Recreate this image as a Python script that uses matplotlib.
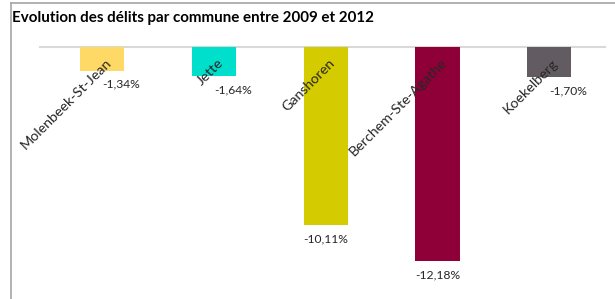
import matplotlib.pyplot as plt
from matplotlib.lines import Line2D

communes = ["Molenbeek-St-Jean", "Jette", "Ganshoren", "Berchem-Ste-Agathe", "Koekelberg"]
evolution = [-1.34, -1.64, -10.11, -12.18, -1.70]
colors = ["#FFD966", "#00DFCC", "#D4CC00", "#900038", "#625C62"]

plt.rcParams["font.family"] = ["Lato", "DejaVu Sans"]

fig = plt.figure(figsize=(6.15, 2.99), dpi=100)
ax = fig.add_axes([46.6 / 615, 0.019, 558.4 / 615, 0.824])

x = range(len(communes))
ax.bar(x, evolution, width=0.395, color=colors, zorder=2)
ax.axhline(0, xmin=-6.6 / 558.4, xmax=1, color="#D9D9D9", lw=1.5, zorder=1, clip_on=False)
ax.set_xlim(-0.5, len(communes) - 0.5)
ax.set_ylim(-14, 0)
ax.axis("off")

for i, (name, v) in enumerate(zip(communes, evolution)):
    # nom de la commune, en diagonale sous l'axe
    ax.annotate(name, (i, 0), xytext=(2, -7), textcoords="offset points",
                rotation=45, ha="right", va="top", rotation_mode="anchor",
                fontsize=10.3, color="#262626")
    # valeur, sous la barre
    label = f"{v:.2f}%".replace(".", ",")
    if v > -5:
        ax.annotate(label, (i, v), xytext=(0, -10), textcoords="offset points",
                    ha="left", va="center", fontsize=8.7, color="#262626")
    else:
        ax.annotate(label, (i, v), xytext=(0, -10), textcoords="offset points",
                    ha="center", va="center", fontsize=8.7, color="#262626")

fig.text(12 / 615, 1 - 18 / 299, "Evolution des délits par commune entre 2009 et 2012",
         fontsize=10.9, fontweight="bold", va="center", ha="left", color="#000000")

# cadre du graphique
fig.add_artist(Line2D([11 / 615, 1], [1 - 3 / 299, 1 - 3 / 299], color="#A6A6A6", lw=1.2))
fig.add_artist(Line2D([11 / 615, 11 / 615], [0, 1 - 3 / 299], color="#A6A6A6", lw=1.2))

fig.savefig("out.png", dpi=100)
